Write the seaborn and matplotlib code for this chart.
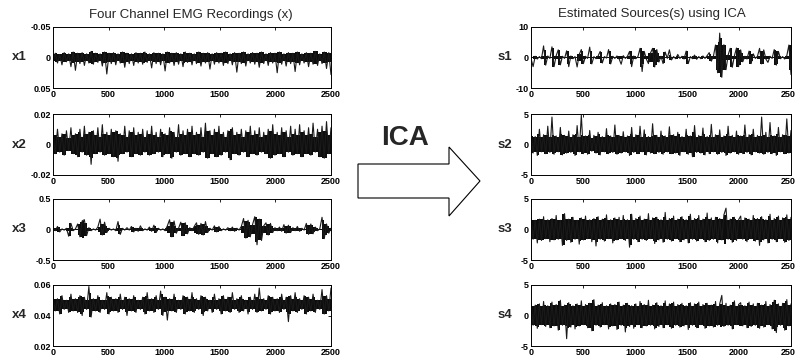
import numpy as np
import matplotlib
matplotlib.use("Agg")
import matplotlib.pyplot as plt
from matplotlib.patches import Polygon
import seaborn as sns

# ---------------------------------------------------------------
# Signal values (envelope samples, ~every 20 samples)
# ---------------------------------------------------------------
x1 = [.006, -.007, .009, -.005, .012, -.008, .007, -.006, .015, -.009,
      .021, -.007, .010, -.008, .013, -.006, .009, -.010, .011, -.007,
      .008, -.006, .014, -.009, .027, -.007, .010, -.008, .012, -.006,
      .009, -.009, .016, -.007, .010, -.006, .013, -.008, .009, -.007,
      .011, -.009, .008, -.006, .017, -.008, .010, -.007, .012, -.006,
      .022, -.009, .009, -.007, .013, -.008, .011, -.006, .015, -.009,
      .008, -.007, .012, -.006, .010, -.009, .014, -.007, .009, -.008,
      .019, -.006, .011, -.008, .009, -.007, .013, -.009, .010, -.006,
      .012, -.008, .024, -.007, .010, -.009, .014, -.006, .009, -.008,
      .011, -.007, .016, -.009, .010, -.006, .013, -.008, .009, -.007,
      .025, -.009, .011, -.006, .014, -.008, .010, -.007, .023, -.009,
      .012, -.006, .009, -.008, .015, -.007, .011, -.010, .013, -.006,
      .010, -.009, .018, -.008, .028]
x2 = [.008, -.006, .010, -.005, .007, -.007, .009, -.004, .011, -.006,
      .007, -.008, .010, -.005, .012, -.007, .008, -.013, .009, -.006,
      .011, -.005, .013, -.007, .008, -.006, .010, -.008, .009, -.011,
      .007, -.006, .012, -.005, .009, -.008, .011, -.006, .008, -.007,
      .010, -.005, .009, -.007, .012, -.006, .008, -.005, .010, -.008,
      .007, -.006, .011, -.009, .008, -.005, .013, -.007, .009, -.006,
      .010, -.008, .012, -.006, .008, -.007, .011, -.005, .014, -.009,
      .009, -.006, .010, -.008, .012, -.007, .008, -.005, .009, -.010,
      .011, -.006, .008, -.007, .010, -.005, .009, -.008, .012, -.006,
      .009, -.007, .011, -.005, .008, -.006, .010, -.009, .013, -.007,
      .008, -.006, .011, -.008, .009, -.005, .012, -.007, .010, -.006,
      .013, -.008, .009, -.006, .011, -.007, .014, -.005, .010, -.008,
      .012, -.009, .015, -.006, .011]
x3 = [.03, -.02, .05, -.04, .01, -.01, .02, -.11, .10, -.02,
      .01, .09, -.12, .14, .16, -.10, .03, -.02, .01, -.01,
      .04, .17, -.09, .12, -.05, .02, -.01, .01, -.02, .13,
      -.08, .02, -.01, .03, -.01, .05, -.04, .02, -.03, .06,
      -.02, .01, -.01, .04, -.03, .07, -.05, .02, -.01, .01,
      -.02, .06, .16, -.12, .14, -.06, .02, .12, -.10, .11,
      -.07, .03, -.02, .05, .11, -.08, .10, -.09, .13, -.05,
      .02, -.01, .06, -.04, .05, -.02, .01, -.01, .03, -.02,
      .04, -.03, .02, -.01, .05, .18, -.14, .15, -.12, .08,
      .21, -.25, .17, -.18, .06, .11, -.09, .10, -.05, .03,
      -.02, .04, -.03, .08, -.06, .07, -.05, .03, -.02, .05,
      -.03, .02, -.01, .10, -.08, .09, -.07, .04, -.02, .01,
      .20, -.15, .09, -.06, .02]
x4 = [.052, .043, .051, .041, .053, .044, .050, .042, .054, .043,
      .051, .042, .053, .040, .052, .044, .059, .039, .051, .043,
      .053, .042, .050, .044, .055, .041, .052, .043, .051, .042,
      .054, .044, .052, .040, .051, .043, .053, .042, .050, .044,
      .052, .041, .055, .043, .051, .042, .053, .044, .056, .040,
      .052, .037, .051, .043, .054, .042, .050, .044, .053, .041,
      .052, .043, .055, .042, .051, .044, .053, .040, .052, .043,
      .050, .042, .054, .044, .051, .041, .053, .043, .052, .042,
      .055, .044, .051, .042, .053, .043, .050, .041, .052, .044,
      .054, .042, .058, .043, .051, .044, .053, .041, .052, .043,
      .051, .042, .054, .044, .052, .036, .053, .043, .055, .042,
      .051, .044, .053, .041, .052, .043, .054, .042, .050, .044,
      .057, .041, .053, .043, .058]

s1 = [-.3, -3.0, .4, -.5, .3, -.4, 3.8, -2.5, .5, -.3,
      3.5, -3.0, .6, 2.5, -2.4, .4, -.3, 2.2, -3.0, .5,
      -.4, .3, -3.1, 1.0, 2.6, -2.0, .4, -.3, 3.4, -2.1,
      .3, -.4, .5, 2.0, -1.8, .3, -.2, 2.6, -2.1, .4,
      -.3, .5, -.4, -2.2, .6, -.3, .4, 2.0, -3.0, .5,
      -.4, .3, 3.0, -4.6, 2.0, -.5, -2.0, 1.5, 3.0, -3.1,
      2.6, -1.5, .4, -2.0, 1.8, -.3, 2.5, -.8, .3, -.4,
      1.0, -.3, .4, -.5, 2.1, -2.0, .3, -.4, .8, -.6,
      .3, -.4, .5, -.3, .6, 1.6, -1.2, .4, 4.1, -5.0,
      8.0, -6.5, 4.2, -4.0, .8, 3.0, -3.2, .5, 3.1, -3.0,
      2.5, -1.4, .4, -.5, 2.1, -2.0, 1.2, -.3, .4, 3.0,
      -2.1, 2.5, -.5, -1.6, .4, -.3, 2.6, -2.5, 2.0, -.4,
      .3, -.5, .6, 4.1, -5.6]
s2 = [2.1, -1.4, 1.3, -1.8, 2.5, -1.2, 1.6, -1.5, 3.0, -1.3,
      4.5, -1.6, 1.4, -1.2, 2.8, -1.7, 1.5, -1.4, 2.2, -1.3,
      1.6, -1.8, 3.1, -1.2, 4.8, -1.5, 1.4, -1.6, 2.3, -1.1,
      1.5, -1.4, 2.0, -1.7, 1.3, -1.2, 2.6, -1.5, 1.4, -1.3,
      3.2, -1.6, 1.5, -1.4, 2.1, -1.2, 1.4, -1.8, 2.8, -1.3,
      1.6, -1.5, 3.0, -1.2, 2.4, -1.7, 1.3, -1.4, 3.4, -1.5,
      1.5, -1.3, 2.2, -1.6, 1.4, -1.2, 2.9, -1.5, 1.6, -1.4,
      2.0, -1.8, 1.3, -1.2, 2.5, -1.6, 1.4, -2.0, 3.1, -1.3,
      1.5, -1.4, 2.7, -1.7, 1.3, -1.5, 3.3, -1.2, 1.6, -1.6,
      2.4, -1.3, 1.4, -1.8, 3.0, -1.4, 1.5, -1.2, 2.2, -1.6,
      1.4, -1.5, 3.2, -1.3, 1.6, -1.7, 2.5, -1.2, 1.5, -1.4,
      4.5, -1.6, 2.0, -1.3, 3.6, -1.5, 1.4, -1.8, 2.8, -1.2,
      1.6, -1.5, 4.2, -1.4, 2.3]
s3 = [1.9, -1.6, 1.5, -2.2, 1.7, -1.8, 2.1, -1.5, 1.6, -2.0,
      1.8, -1.7, 2.3, -1.6, 1.5, -2.6, 2.6, -1.8, 1.7, -2.1,
      2.0, -1.6, 1.5, -2.4, 1.9, -1.7, 2.2, -1.5, 1.6, -2.0,
      1.8, -2.7, 2.1, -1.6, 1.7, -1.9, 2.4, -1.5, 1.6, -2.2,
      1.9, -1.7, 2.0, -1.5, 2.3, -1.8, 1.6, -2.9, 2.5, -1.6,
      1.8, -2.0, 2.2, -1.6, 1.7, -1.8, 2.6, -1.5, 1.9, -2.3,
      2.0, -1.7, 1.6, -2.1, 2.8, -1.6, 1.8, -1.9, 2.2, -1.5,
      1.7, -2.0, 2.1, -1.7, 1.6, -2.2, 2.5, -1.6, 1.8, -1.9,
      2.3, -1.5, 1.7, -2.0, 2.7, -1.8, 1.9, -1.6, 2.0, -2.2,
      1.8, -1.7, 2.4, 3.5, -1.6, 1.7, -2.1, 2.0, -1.8, 1.6,
      2.2, -1.6, 1.9, -2.0, 1.7, -1.5, 2.3, -1.9, 1.8, -2.6,
      2.1, -1.7, 1.6, -2.2, 2.5, -1.6, 1.8, -2.0, 2.2, -1.5,
      1.9, -2.1, 2.4, -1.8, 2.0]
s4 = [2.0, -1.6, 1.7, -2.1, 1.9, -1.5, 2.3, -1.8, 1.6, -2.0,
      2.2, -1.7, 1.8, -2.4, 2.5, -1.6, 1.7, -3.8, 2.1, -1.9,
      1.6, -2.2, 1.9, -1.7, 2.4, -1.5, 1.8, -2.0, 2.0, -2.5,
      2.6, -1.6, 1.7, -1.9, 2.1, -1.5, 1.6, -2.2, 1.9, -1.7,
      1.8, -2.3, 2.2, -1.6, 1.7, -2.7, 2.0, -1.8, 1.6, -2.1,
      1.9, -1.5, 2.3, -2.0, 1.8, -1.7, 2.5, -1.6, 1.7, -2.2,
      2.1, -1.8, 1.6, -2.0, 2.4, -1.5, 1.9, -2.1, 2.2, -1.6,
      1.8, -1.9, 2.0, -1.7, 1.6, -2.3, 2.1, -1.6, 1.9, -2.0,
      2.2, -1.5, 1.8, -2.1, 2.0, -1.7, 1.7, -1.9, 2.3, -1.6,
      1.9, 3.3, -1.8, 2.0, -1.6, 1.7, -2.2, 2.4, -1.5, 1.8,
      2.1, -1.7, 1.6, -2.0, 2.2, -1.8, 1.9, -1.6, 2.0, -2.1,
      1.7, -1.9, 2.3, -1.5, 1.8, -2.2, 2.5, -2.8, 1.9, -1.6,
      2.0, -2.4, 2.6, -1.7, 1.9]

# centre level of each trace (the black band sits around it)
left_centres = [0.0, 0.0, 0.0, 0.047]
right_centres = [0.0, 0.0, 0.0, 0.0]

left_names = ["x1", "x2", "x3", "x4"]
right_names = ["s1", "s2", "s3", "s4"]
left_ylims = [(0.05, -0.05), (-0.02, 0.02), (-0.5, 0.5), (0.02, 0.06)]
left_yticks = [[-0.05, 0, 0.05], [-0.02, 0, 0.02], [-0.5, 0, 0.5], [0.02, 0.04, 0.06]]
left_yticklabels = [["-0.05", "0", "0.05"], ["-0.02", "0", "0.02"], ["-0.5", "0", "0.5"], ["0.02", "0.04", "0.06"]]
right_ylims = [(-10, 10), (-5, 5), (-5, 5), (-5, 5)]
right_yticks = [[-10, 0, 10], [-5, 0, 5], [-5, 0, 5], [-5, 0, 5]]
xticks = [0, 500, 1000, 1500, 2000, 2500]

sns.set_style("white")
plt.rcParams['font.family'] = ['Liberation Sans', 'DejaVu Sans']

W, H = 795, 363
fig = plt.figure(figsize=(W / 100, H / 100), dpi=100)

row_tops = [27, 114, 199, 285]
row_h = 61


def style_axis(ax, yl, yt, ytl):
    ax.set_xlim(0, 2500)
    ax.set_ylim(*yl)
    ax.set_xticks(xticks)
    ax.set_xticklabels([str(t) for t in xticks])
    ax.set_yticks(yt)
    ax.set_yticklabels(ytl)
    ax.set_xlabel("")
    ax.set_ylabel("")
    ax.tick_params(direction="in", top=True, right=True, length=2.5, width=0.6,
                   labelsize=6.5, pad=1.5, colors="black")
    for lab in ax.get_xticklabels() + ax.get_yticklabels():
        lab.set_fontweight("bold")
    for sp in ax.spines.values():
        sp.set_visible(True)
        sp.set_color("black")
        sp.set_linewidth(0.7)


def add_panel(left_px, width_px, top_px, vals, centre, yl, yt, ytl, name, name_x):
    ax = fig.add_axes([left_px / W, 1 - (top_px + row_h) / H, width_px / W, row_h / H])
    v = np.asarray(vals, dtype=float)
    t = np.linspace(0, 2500, len(v))
    # solid core: the smaller swing of each neighbouring pair
    a = np.abs(v - centre)
    core = np.minimum(a[:-1], a[1:])
    core = np.append(core, core[-1])
    ax.fill_between(t, centre - core, centre + core, step="post", color="#0d0d0d", linewidth=0)
    sns.lineplot(x=t, y=v, ax=ax, color="#1a1a1a", linewidth=0.8)
    style_axis(ax, yl, yt, ytl)
    fig.text(name_x / W, 1 - (top_px + row_h / 2) / H, name, ha="center", va="center",
             fontsize=9.5, fontweight="bold")
    return ax


left_data = [x1, x2, x3, x4]
right_data = [s1, s2, s3, s4]
for i in range(4):
    add_panel(53, 278, row_tops[i], left_data[i], left_centres[i], left_ylims[i],
              left_yticks[i], left_yticklabels[i], left_names[i], 19)
    add_panel(531, 260, row_tops[i], right_data[i], right_centres[i], right_ylims[i],
              right_yticks[i], [str(v) for v in right_yticks[i]], right_names[i], 505)

fig.text(191 / W, 1 - 15 / H, "Four Channel EMG Recordings (x)", ha="center", va="center", fontsize=9.5)
fig.text(652 / W, 1 - 14 / H, "Estimated Sources(s) using ICA", ha="center", va="center", fontsize=9.5)

# ICA arrow between the two columns
fig.text(405 / W, 1 - 138 / H, "ICA", ha="center", va="center", fontsize=20, fontweight="bold")
arrow_px = [(358, 164), (449, 164), (449, 147), (480, 181), (449, 216), (449, 198), (358, 198)]
arrow = Polygon([(x / W, 1 - y / H) for x, y in arrow_px], closed=True, transform=fig.transFigure,
                facecolor="white", edgecolor="black", linewidth=0.8)
fig.patches.append(arrow)

fig.savefig("out.png", dpi=100)
